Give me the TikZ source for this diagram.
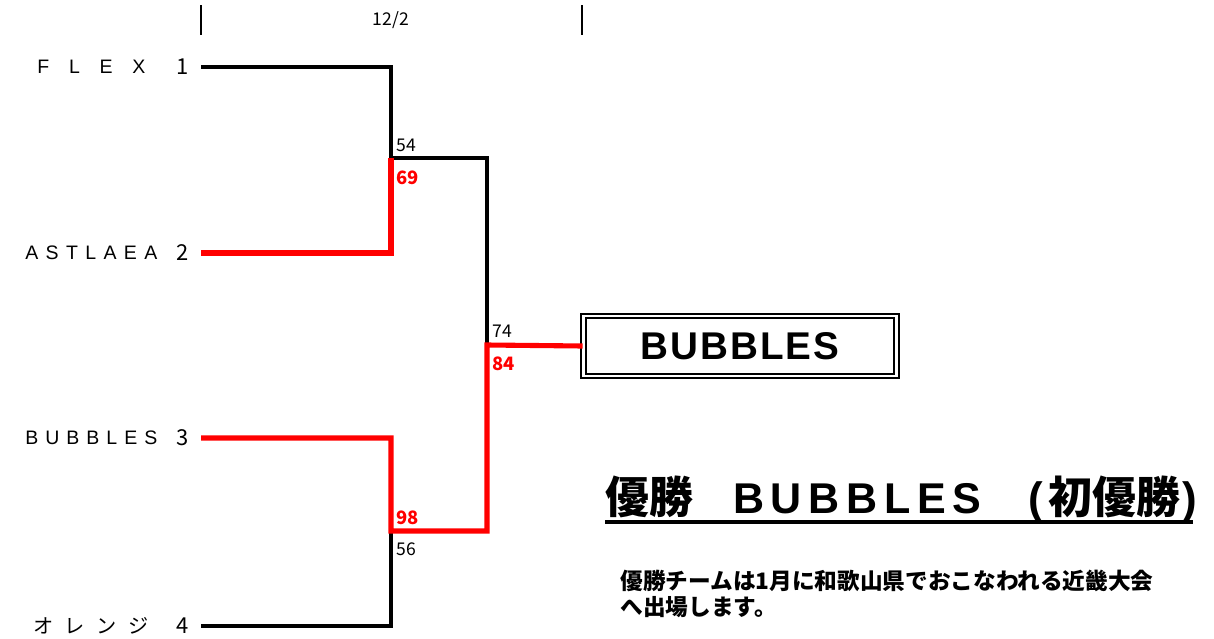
\documentclass[tikz,border=0pt]{standalone}
\usepackage{fontspec}
\setmainfont{Liberation Sans}
\newfontfamily\jpfont{Noto Sans CJK JP}
\usetikzlibrary{positioning}
\definecolor{winred}{rgb}{1,0,0}
\newcommand{\spreadname}[2]{\makebox[#1][s]{#2}}
\newcommand{\latinbig}{\fontspec{Liberation Sans}\bfseries\fontsize{24.5}{28}\selectfont}
\newcommand{\parenbig}{\fontspec{Liberation Sans}\fontsize{25}{28}\selectfont}
\tikzset{
  loseline/.style={line width=2.3pt, draw=black},
  winline/.style={line width=2.9pt, draw=winred},
  score/.style={anchor=west, inner sep=0pt, font=\jpfont\fontsize{10}{12}\selectfont},
  winscore/.style={anchor=west, inner sep=0pt, text=winred, font=\jpfont\bfseries\fontsize{10.5}{12}\selectfont},
  teamname/.style={anchor=west, inner sep=0pt, font=\fontsize{11.1}{13}\selectfont},
  seed/.style={inner sep=0pt, font=\jpfont\fontsize{12.5}{13}\selectfont},
  champbox/.style={draw, double, line width=1.1pt, double distance=1.3pt,
    minimum width=6.26cm, minimum height=1.2cm, inner sep=0pt,
    font=\bfseries\addfontfeature{LetterSpace=5}\fontsize{22}{26}\selectfont}
}
\begin{document}
\begin{tikzpicture}[x=0.02cm, y=-0.02cm]
\useasboundingbox (0,0) rectangle (1214,639);
% date header
\draw[line width=0.8pt] (201,5) -- (201,35);
\draw[line width=0.8pt] (582,5) -- (582,35);
\node[score, anchor=center] (date) at (391,20) {12/2};
% teams
\node[teamname] (t1) at (37,67) {\spreadname{61.5pt}{F\hfill L\hfill E\hfill X}};
\node[teamname] (t2) at (25,253) {\spreadname{75.1pt}{A\hfill S\hfill T\hfill L\hfill A\hfill E\hfill A}};
\node[teamname] (t3) at (25,438) {\spreadname{75.1pt}{B\hfill U\hfill B\hfill B\hfill L\hfill E\hfill S}};
\node[teamname, font=\jpfont\fontsize{11.5}{13}\selectfont] (t4) at (33,626) {\spreadname{65.4pt}{オ\hfill レ\hfill ン\hfill ジ}};
\node[seed] (s1) at (183,67) {1};
\node[seed] (s2) at (183,253) {2};
\node[seed] (s3) at (183,438) {3};
\node[seed] (s4) at (183,626) {4};
\coordinate (p1) at (201,67);
\coordinate (p2) at (201,253);
\coordinate (p3) at (201,438);
\coordinate (p4) at (201,626);
\coordinate (m1) at (391,158);
\coordinate (m2) at (391,531);
\coordinate (f) at (487,345);
\node[champbox] (champ) at (740,346) {BUBBLES};
% losing lines
\draw[loseline] (p1) -| (m1) -| (f);
\draw[loseline] (p4) -| (m2);
% winning lines
\draw[winline] (p2) -| (m1);
\draw[winline] (p3) -| (m2) -| (f) -- (champ.west);
% scores
\node[score] (sc1) at (396,145) {54};
\node[winscore] (sc2) at (396,178) {69};
\node[score] (sc3) at (492,331) {74};
\node[winscore] (sc4) at (492,364) {84};
\node[winscore] (sc5) at (396,518) {98};
\node[score] (sc6) at (396,549) {56};
% result
\node[anchor=base west, inner sep=0pt, font=\jpfont\bfseries\fontsize{25}{28}\selectfont] (title) at (605,513)
  {優勝\hspace{22.8pt}{\latinbig\spreadname{141.1pt}{B\hfill U\hfill B\hfill B\hfill L\hfill E\hfill S}}\hspace{27pt}{\parenbig(}\hspace{3pt}初優勝\hspace{1pt}{\parenbig)}};
\coordinate (ulend) at (1193,522);
\draw[line width=2.3pt] (title.west |- ulend) -- (ulend);
\node[anchor=north west, inner sep=0pt, align=left, font=\jpfont\bfseries\fontsize{12.9}{14.8}\selectfont] (note) at (620,570) {優勝チームは1月に和歌山県でおこなわれる近畿大会\\へ出場します。};
\end{tikzpicture}
\end{document}
